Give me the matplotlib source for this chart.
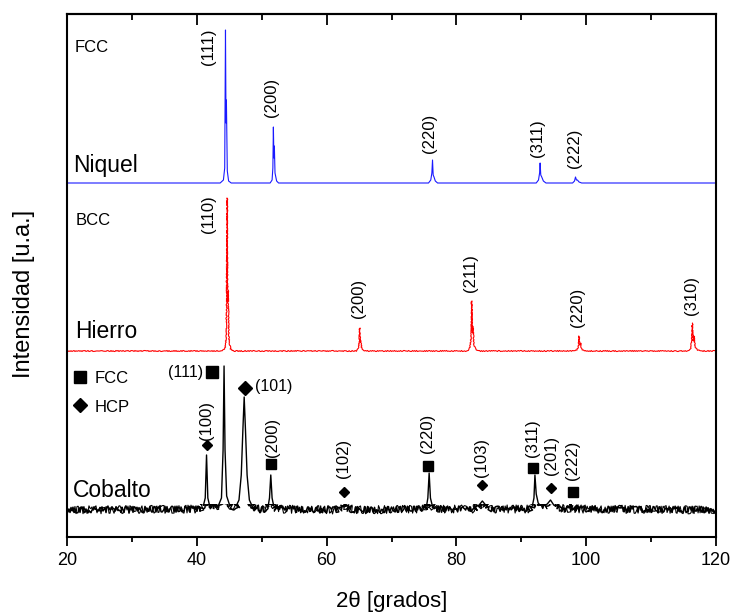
import matplotlib
matplotlib.use("Agg")
import matplotlib.pyplot as plt
from matplotlib.patches import Rectangle
from matplotlib.ticker import MultipleLocator

plt.rcParams['font.family'] = ['Liberation Sans', 'DejaVu Sans']

# ---- Diffraction patterns: 2θ (degrees) and intensity above each baseline (a.u.) ----
ni_2theta = [20.0, 43.6, 44.1, 44.3, 44.42, 44.5, 44.56, 44.7, 44.9, 45.3,
             51.3, 51.6, 51.72, 51.8, 51.88, 51.95, 52.05, 52.3, 52.6,
             75.7, 76.05, 76.22, 76.32, 76.42, 76.55, 76.75, 77.1,
             92.3, 92.65, 92.82, 92.9, 93.0, 93.15, 93.4, 93.8,
             97.9, 98.2, 98.35, 98.5, 98.65, 98.9, 99.3, 120.0]
ni_int = [0, 0, 3, 15, 153, 60, 83, 12, 2, 0,
          0, 3, 15, 56, 25, 37, 10, 2, 0,
          0, 3, 10, 23, 8, 6, 2, 0,
          0, 3, 10, 20, 8, 6, 2, 0,
          0, 2, 6, 3, 3, 1, 0, 0]

fe_2theta = [20.0, 43.9, 44.35, 44.55, 44.68, 44.75, 44.82, 44.95, 45.2, 45.6,
             64.6, 64.9, 65.02, 65.1, 65.18, 65.25, 65.4, 65.7, 66.0,
             81.7, 82.05, 82.25, 82.35, 82.45, 82.55, 82.7, 82.95, 83.4,
             98.3, 98.65, 98.8, 98.9, 99.0, 99.1, 99.3, 99.7,
             115.7, 116.1, 116.27, 116.35, 116.48, 116.62, 116.8, 117.2, 117.7, 120.0]
fe_int = [0, 0, 3, 15, 153, 50, 60, 12, 2, 0,
          0, 3, 10, 23, 9, 11, 3, 1, 0,
          0, 3, 12, 50, 18, 25, 6, 2, 0,
          0, 2, 6, 15, 6, 8, 2, 0,
          0, 3, 12, 28, 10, 15, 4, 1, 0, 0]

co_2theta = [20.0, 40.5, 41.0, 41.3, 41.5, 41.7, 41.95, 42.3,
             43.3, 43.8, 44.05, 44.2, 44.35, 44.6, 45.0, 45.4,
             46.0, 46.5, 46.85, 47.1, 47.3, 47.5, 47.75, 48.1, 48.6, 49.2,
             50.7, 51.0, 51.2, 51.4, 51.6, 51.85, 52.3,
             61.5, 62.2, 62.7, 63.2, 64.0,
             75.0, 75.4, 75.6, 75.8, 76.0, 76.3, 76.8,
             82.8, 83.5, 84.0, 84.5, 85.2,
             91.3, 91.7, 91.95, 92.1, 92.3, 92.6, 93.0, 93.5,
             94.0, 94.5, 95.0, 95.6,
             97.2, 97.9, 98.6, 120.0]
co_int = [0, 1, 4, 12, 55, 12, 5, 3,
          4, 12, 60, 144, 60, 14, 6, 3,
          3, 10, 35, 80, 113, 80, 35, 10, 3, 1,
          1, 4, 12, 35, 12, 4, 1,
          0, 3, 5, 3, 0,
          1, 4, 12, 37, 12, 4, 1,
          1, 5, 9, 5, 1,
          1, 4, 12, 35, 16, 7, 4, 4,
          6, 10, 5, 2,
          1, 4, 1, 0]

# Vertical stacking of the three patterns
NI_OFFSET, FE_OFFSET, CO_OFFSET = 354, 186, 27

# ---- Reflection labels ----
ni_hkl = ['(111)', '(200)', '(220)', '(311)', '(222)']
ni_lab_x = [41.77, 51.54, 75.78, 92.57, 98.17]
ni_lab_y = [472, 420, 384, 380, 369]

fe_hkl = ['(110)', '(200)', '(211)', '(220)', '(310)']
fe_lab_x = [41.77, 64.99, 82.2, 98.7, 116.25]
fe_lab_y = [304, 219, 245, 210, 222]

co_hkl = ['(100)', '(200)', '(102)', '(220)', '(103)', '(311)', '(201)', '(222)']
co_lab_x = [41.53, 51.59, 62.68, 75.58, 83.9, 91.8, 94.68, 97.96]
co_lab_y = [97, 80, 59, 84, 60, 80, 62, 57]

# Phase markers on the cobalt pattern
fcc_x = [51.5, 75.6, 91.8, 97.9]
fcc_y = [73, 71, 69, 45]
hcp_x = [41.5, 62.7, 83.9, 94.6]
hcp_y = [92, 45, 52, 49]

fig = plt.figure(figsize=(7.33, 6.14), dpi=100)
ax = fig.add_axes([67 / 733, 77 / 614, 649 / 733, 523 / 614])

ax.plot(ni_2theta, [v + NI_OFFSET for v in ni_int], color='#1a1aff', lw=0.8)
fe_line, = ax.plot(fe_2theta, [v + FE_OFFSET for v in fe_int], color='#ff0000', lw=0.8)
fe_line.set_sketch_params(0.5, 2.0, 2.0)

# Cobalt: noisy counting statistics near the background, clean peak tops
co_y = [v + CO_OFFSET for v in co_int]
for lw, scale, length in [(1.1, 3.0, 0.3), (0.8, 4.0, 0.17)]:
    co_noisy, = ax.plot(co_2theta, co_y, color='black', lw=lw)
    co_noisy.set_sketch_params(scale, length, 3.0)
    co_noisy.set_clip_path(Rectangle((20, -50), 100, CO_OFFSET + 56,
                                     transform=ax.transData))
co_clean, = ax.plot(co_2theta, co_y, color='black', lw=1.0)
co_clean.set_clip_path(Rectangle((20, CO_OFFSET + 4), 100, 600,
                                 transform=ax.transData))

lab_kw = dict(rotation=90, ha='center', va='bottom', fontsize=12)
for t, x, y in zip(ni_hkl, ni_lab_x, ni_lab_y):
    ax.text(x, y, t, **lab_kw)
for t, x, y in zip(fe_hkl, fe_lab_x, fe_lab_y):
    ax.text(x, y, t, **lab_kw)
for t, x, y in zip(co_hkl, co_lab_x, co_lab_y):
    ax.text(x, y, t, **lab_kw)

ax.text(40.96, 165, '(111)', ha='right', va='center', fontsize=11.5)
ax.text(48.97, 150, '(101)', ha='left', va='center', fontsize=11.5)

ax.plot(fcc_x, fcc_y, 's', color='black', ms=7.8, ls='none')
ax.plot([42.35], [165], 's', color='black', ms=8.6)
ax.plot(hcp_x, hcp_y, 'D', color='black', ms=5.0, ls='none')
ax.plot([47.43], [149.5], 'D', color='black', ms=7.0)

# Phase key
ax.plot([22.0], [160], 's', color='black', ms=9.0)
ax.text(24.3, 153.7, 'FCC', ha='left', va='baseline', fontsize=12)
ax.plot([22.0], [132], 'D', color='black', ms=6.8)
ax.text(24.3, 125.3, 'HCP', ha='left', va='baseline', fontsize=12)

# Pattern names
ax.text(21.23, 485.3, 'FCC', ha='left', va='baseline', fontsize=12)
ax.text(20.97, 365, 'Niquel', ha='left', va='baseline', fontsize=16.5)
ax.text(21.4, 312, 'BCC', ha='left', va='baseline', fontsize=12)
ax.text(21.23, 199, 'Hierro', ha='left', va='baseline', fontsize=16.5)
ax.text(20.88, 40, 'Cobalto', ha='left', va='baseline', fontsize=16.5)

ax.set_xlim(20, 120)
ax.set_ylim(0, 523)
ax.xaxis.set_major_locator(MultipleLocator(20))
ax.xaxis.set_minor_locator(MultipleLocator(10))
ax.set_yticks([])
ax.tick_params(axis='x', which='major', direction='out', length=6.5, width=1.3,
               labelsize=13, pad=4.5)
ax.tick_params(axis='x', which='minor', direction='out', length=3.6, width=1.3)
for s in ax.spines.values():
    s.set_linewidth(1.5)

top = ax.secondary_xaxis('top')
top.xaxis.set_major_locator(MultipleLocator(20))
top.xaxis.set_minor_locator(MultipleLocator(10))
top.tick_params(axis='x', which='major', direction='in', length=8, width=1.3,
                labeltop=False)
top.tick_params(axis='x', which='minor', direction='in', length=4.3, width=1.3)
top.spines['top'].set_linewidth(1.5)

ax.set_xlabel('2θ [grados]', fontsize=16)
ax.xaxis.set_label_coords(0.5, -0.124)
ax.xaxis.label.set_va('center')
ax.set_ylabel('Intensidad [u.a.]', fontsize=17)
ax.yaxis.set_label_coords(-0.066, 0.4656)
ax.yaxis.label.set_va('center')

fig.savefig('out.png', dpi=100, facecolor='white')
